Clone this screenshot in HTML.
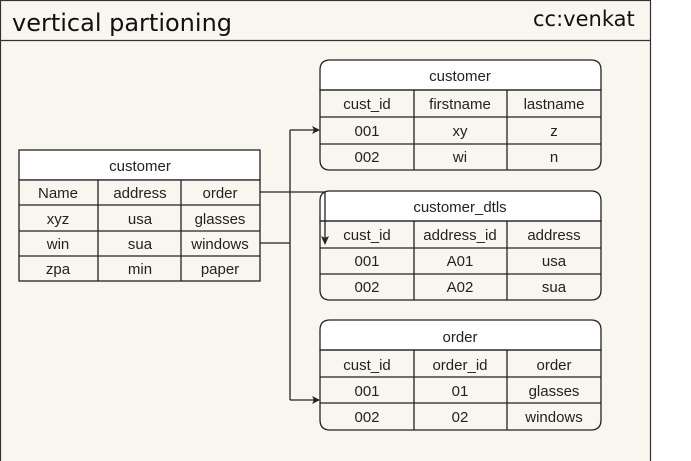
<!DOCTYPE html>
<html><head><style>
html,body{margin:0;padding:0;background:#fff;}
svg{display:block;}
text{font-family:"Liberation Sans",sans-serif;font-size:15px;fill:#222;text-anchor:middle;}
.t{font-family:"DejaVu Sans",sans-serif;font-size:24px;text-anchor:start;fill:#111;}
</style></head><body>
<svg width="691" height="461" viewBox="0 0 691 461" xmlns="http://www.w3.org/2000/svg">
<rect x="0.5" y="0.5" width="650" height="465" fill="#f8f6ef" stroke="#333" stroke-width="1.2"/>
<line x1="0" y1="40.5" x2="651" y2="40.5" stroke="#333" stroke-width="1.2"/>
<text class="t" x="12" y="31">vertical partioning</text>
<text class="t" x="533" y="26" style="font-size:21px">cc:venkat</text>

<g stroke="#222" stroke-width="1.3" fill="none">
<!-- left table -->
<rect x="19" y="150" width="241" height="30" fill="#fff"/>
<rect x="19" y="180" width="241" height="101" fill="#f8f6ef"/>
<line x1="19" y1="205" x2="260" y2="205"/><line x1="19" y1="231" x2="260" y2="231"/><line x1="19" y1="256" x2="260" y2="256"/>
<line x1="98" y1="180" x2="98" y2="281"/><line x1="181" y1="180" x2="181" y2="281"/>
<!-- right tables -->
<path d="M330 60 H591 Q601 60 601 70 V90 H320 V70 Q320 60 330 60Z" fill="#fff"/>
<path d="M320 90 H601 V160 Q601 170 591 170 H330 Q320 170 320 160Z"/>
<line x1="320" y1="117" x2="601" y2="117"/><line x1="320" y1="144" x2="601" y2="144"/>
<line x1="414" y1="90" x2="414" y2="170"/><line x1="507" y1="90" x2="507" y2="170"/>

<path d="M330 191 H591 Q601 191 601 201 V221 H320 V201 Q320 191 330 191Z" fill="#fff"/>
<path d="M320 221 H601 V290 Q601 300 591 300 H330 Q320 300 320 290Z"/>
<line x1="320" y1="248" x2="601" y2="248"/><line x1="320" y1="274" x2="601" y2="274"/>
<line x1="414" y1="221" x2="414" y2="300"/><line x1="507" y1="221" x2="507" y2="300"/>

<path d="M330 320 H591 Q601 320 601 330 V350 H320 V330 Q320 320 330 320Z" fill="#fff"/>
<path d="M320 350 H601 V420 Q601 430 591 430 H330 Q320 430 320 420Z"/>
<line x1="320" y1="377" x2="601" y2="377"/><line x1="320" y1="403" x2="601" y2="403"/>
<line x1="414" y1="350" x2="414" y2="430"/><line x1="507" y1="350" x2="507" y2="430"/>

<!-- connectors -->
<path d="M260 192 H325 V240"/>
<path d="M260 243 H290"/>
<path d="M290 130 V400"/>
<path d="M290 130 H316"/><path d="M290 400 H316"/>
</g>
<g fill="#222">
<path d="M320 130 L312 126 L314 130 L312 134Z"/>
<path d="M320 400 L312 396 L314 400 L312 404Z"/>
<path d="M325 245 L321 236 L325 238 L329 236Z"/>
</g>

<text x="140" y="171">customer</text>
<text x="58" y="198">Name</text><text x="140" y="198">address</text><text x="220" y="198">order</text>
<text x="58" y="224">xyz</text><text x="140" y="224">usa</text><text x="220" y="224">glasses</text>
<text x="58" y="249">win</text><text x="140" y="249">sua</text><text x="220" y="249">windows</text>
<text x="58" y="274">zpa</text><text x="140" y="274">min</text><text x="220" y="274">paper</text>

<text x="460" y="81">customer</text>
<text x="367" y="109">cust_id</text><text x="460" y="109">firstname</text><text x="554" y="109">lastname</text>
<text x="367" y="136">001</text><text x="460" y="136">xy</text><text x="554" y="136">z</text>
<text x="367" y="162">002</text><text x="460" y="162">wi</text><text x="554" y="162">n</text>

<text x="460" y="212">customer_dtls</text>
<text x="367" y="240">cust_id</text><text x="460" y="240">address_id</text><text x="554" y="240">address</text>
<text x="367" y="266">001</text><text x="460" y="266">A01</text><text x="554" y="266">usa</text>
<text x="367" y="292">002</text><text x="460" y="292">A02</text><text x="554" y="292">sua</text>

<text x="460" y="342">order</text>
<text x="367" y="370">cust_id</text><text x="460" y="370">order_id</text><text x="554" y="370">order</text>
<text x="367" y="396">001</text><text x="460" y="396">01</text><text x="554" y="396">glasses</text>
<text x="367" y="422">002</text><text x="460" y="422">02</text><text x="554" y="422">windows</text>
</svg>
</body></html>
